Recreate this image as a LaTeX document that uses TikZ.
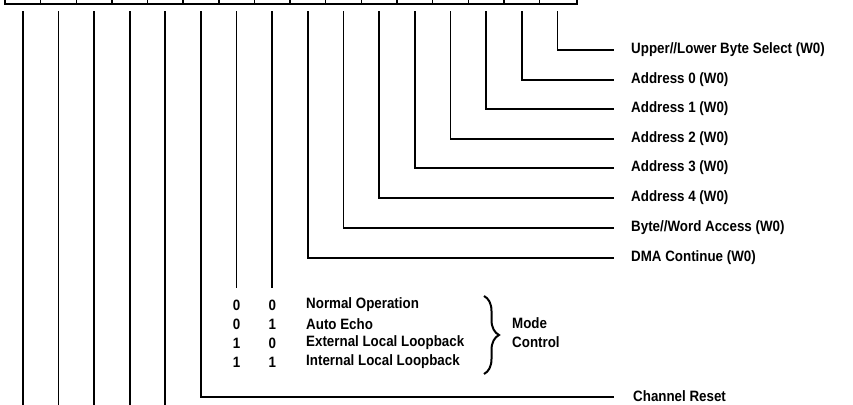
\documentclass[tikz,border=0pt]{standalone}
\usepackage{fontspec}
\setmainfont{Liberation Sans}
\newfontfamily\labelfont{Liberation Sans Bold}[FakeStretch=0.89]
\usetikzlibrary{decorations.pathreplacing}

\begin{document}
\begin{tikzpicture}[x=1pt,y=-1pt,
  wire/.style={line width=1.7pt,line cap=rect},
  field/.style={font=\labelfont\fontsize{15}{19}\selectfont,anchor=west,inner sep=0pt},
  digit/.style={font=\labelfont\fontsize{15}{19}\selectfont,inner sep=0pt}]
  \clip (0,0) rectangle (853,404);

  % register cells along the top edge (bit 15 on the left, bit 0 on the right)
  \draw[line width=1.8pt] (4.9,-30) rectangle (577.3,4);
  \foreach \i in {1,...,15}
    \draw[line width=1.4pt] ({4.9+35.65*\i},-30) -- ({4.9+35.65*\i},4);

  % tap points under each cell
  \foreach \i in {0,...,15}
    \coordinate (b\the\numexpr15-\i\relax) at ({22.7+35.65*\i},12);

  % write-only address / control fields, bits 0 to 7
  \node[field] (f0) at (631,50)  {Upper//Lower Byte Select (W0)};
  \node[field] (f1) at (631,80)  {Address 0 (W0)};
  \node[field] (f2) at (631,109) {Address 1 (W0)};
  \node[field] (f3) at (631,139) {Address 2 (W0)};
  \node[field] (f4) at (631,168) {Address 3 (W0)};
  \node[field] (f5) at (631,198) {Address 4 (W0)};
  \node[field] (f6) at (631,228) {Byte//Word Access (W0)};
  \node[field] (f7) at (631,258) {DMA Continue (W0)};
  \foreach \k in {0,...,7}
    \draw[wire] (b\k) |- ([xshift=-18pt]f\k.west);

  % mode control, bits 8 and 9
  \coordinate (m9) at (b9 |- 0,287);
  \coordinate (m8) at (b8 |- 0,287);
  \draw[wire] (b9) -- (m9);
  \draw[wire] (b8) -- (m8);

  \foreach \y/\p/\q/\t [count=\r] in
      {305/0/0/Normal Operation,
       324/0/1/Auto Echo,
       343/1/0/External Local Loopback,
       362/1/1/Internal Local Loopback}{
    \node[digit] (p\r) at (b9 |- 0,\y) {\p};
    \node[digit] (q\r) at (b8 |- 0,\y) {\q};
    \node[field] (t\r) at (306,\y) {\t};
  }
  \draw[line width=2pt,decorate,decoration={brace,amplitude=15pt}]
    (484,296) -- (484,374);
  \node[field,align=left] (mode) at (512,333) {Mode\\Control};

  % channel reset, bit 10
  \node[field] (cr) at (633,396) {Channel Reset};
  \draw[wire] (b10) |- ([xshift=-20pt,yshift=-1pt]cr.west);

  % remaining bits 11 to 15 continue downward
  \foreach \k in {11,...,15}
    \draw[wire] (b\k) -- (b\k |- 0,420);
\end{tikzpicture}
\end{document}
